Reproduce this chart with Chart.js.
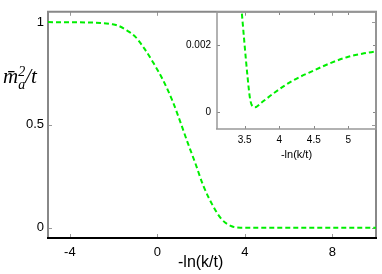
<!DOCTYPE html>
<html>
<head>
<meta charset="utf-8">
<script src="https://cdn.jsdelivr.net/npm/chart.js@4.4.1/dist/chart.umd.min.js"></script>
<style>
  html, body { margin: 0; padding: 0; background: #fff; }
  #wrap { position: relative; width: 382px; height: 274px; }
  #wrap canvas { position: absolute; left: 0; top: 0; }
  .lbl { position: absolute; color: #000; white-space: nowrap; }
  #ylab { left: 3px; top: 64px; font: italic 21px "Liberation Serif", "DejaVu Serif", serif; }
  #ylab .ss { display: inline-block; vertical-align: -6px; font-size: 14px; line-height: 13px; text-align: left; }
  #ylab .ss span { display: block; }
  #xlab { left: 178px; top: 253px; font: 16px "Liberation Sans", Arial, sans-serif; }
</style>
</head>
<body>
<div id="wrap">
  <canvas id="main" width="382" height="274"></canvas>
  <canvas id="inset" width="382" height="274"></canvas>
  <div class="lbl" id="ylab">m&#772;<span class="ss"><span>2</span><span>a</span></span>/t</div>
  <div class="lbl" id="xlab">-ln(k/t)</div>
</div>
<script>
// main curve
const mainX = [-5, -2.6, -2.1, -1.8, -1.4, -1.0, -0.6, -0.2, 0.25, 0.7, 1.05, 1.4, 1.75, 2.1, 2.55, 2.95, 3.4, 3.8, 10];
const mainY = [1, 0.996, 0.99, 0.983, 0.96, 0.928, 0.872, 0.805, 0.72, 0.615, 0.515, 0.41, 0.31, 0.205, 0.105, 0.04, 0.007, 0, 0];
const mainXTicks = [-4, 0, 4, 8];
const mainXLabels = ['-4', '0', '4', '8'];
const mainYTicks = [0, 0.5, 1];
const mainYLabels = ['0', '0.5', '1'];

// inset (zoom near the minimum)
const insetX = [3.46, 3.50, 3.54, 3.58, 3.62, 3.65, 3.75, 3.94, 4.19, 4.5, 4.75, 5.0, 5.2, 5.4];
const insetY = [0.00295, 0.0020, 0.0011, 0.00038, 0.00017, 0.00015, 0.0003, 0.0006, 0.00094, 0.00125, 0.00148, 0.00166, 0.00175, 0.00182];
const insetXTicks = [3.5, 4, 4.5, 5];
const insetXLabels = ['3.5', '4', '4.5', '5'];
const insetYTicks = [0, 0.002];
const insetYLabels = ['0', '0.002'];

const GREEN = '#00ee00';
const FONT = '"Liberation Sans", Arial, sans-serif';

function pts(xs, ys) { return xs.map((x, i) => ({ x: x, y: ys[i] })); }

// box + inward ticks on all four sides
const framePlugin = {
  id: 'frame',
  beforeDatasetsDraw(chart, args, o) {
    const { ctx, chartArea: a, scales } = chart;
    ctx.save();
    ctx.lineWidth = 1;
    ctx.strokeStyle = o.tickColor;
    scales.x.ticks.forEach(t => {
      const px = Math.round(scales.x.getPixelForValue(t.value)) + 0.5;
      ctx.beginPath();
      ctx.moveTo(px, a.bottom); ctx.lineTo(px, a.bottom - o.len);
      ctx.moveTo(px, a.top); ctx.lineTo(px, a.top + o.len);
      ctx.stroke();
    });
    scales.y.ticks.forEach(t => {
      const py = Math.round(scales.y.getPixelForValue(t.value)) + 0.5;
      ctx.beginPath();
      ctx.moveTo(a.left, py); ctx.lineTo(a.left + o.len, py);
      ctx.moveTo(a.right, py); ctx.lineTo(a.right - o.len, py);
      ctx.stroke();
    });
    ctx.lineWidth = o.width;
    ctx.strokeStyle = o.boxColor;
    ctx.beginPath();
    ctx.moveTo(a.left, a.bottom); ctx.lineTo(a.left, a.top);
    ctx.lineTo(a.right, a.top); ctx.lineTo(a.right, a.bottom);
    ctx.stroke();
    ctx.strokeStyle = o.bottomColor;
    ctx.beginPath();
    ctx.moveTo(a.left - 1, a.bottom); ctx.lineTo(a.right + 1, a.bottom);
    ctx.stroke();
    ctx.restore();
  }
};

function setTicks(list) {
  return scale => { scale.ticks = list.map(v => ({ value: v })); };
}
function labelsFrom(list) {
  return (value, i) => list[i];
}

// main plot
new Chart(document.getElementById('main'), {
  type: 'line',
  data: {
    datasets: [{
      data: pts(mainX, mainY),
      borderColor: GREEN,
      borderWidth: 2,
      borderDash: [5, 3],
      pointRadius: 0,
      cubicInterpolationMode: 'monotone'
    }]
  },
  options: {
    responsive: false,
    animation: false,
    layout: { padding: { left: 0, right: 6, top: 10, bottom: 0 } },
    plugins: {
      legend: { display: false },
      tooltip: { enabled: false },
      frame: { len: 4, width: 2, tickColor: '#999', boxColor: '#888', bottomColor: '#000' }
    },
    scales: {
      x: {
        type: 'linear', min: -5, max: 10,
        afterBuildTicks: setTicks(mainXTicks),
        afterFit: s => { s.height = 36; },
        grid: { display: false, drawTicks: false },
        border: { display: false },
        ticks: { padding: 7, color: '#000', font: { family: FONT, size: 13 }, callback: labelsFrom(mainXLabels) }
      },
      y: {
        type: 'linear', min: -0.05, max: 1.05,
        afterBuildTicks: setTicks(mainYTicks),
        afterFit: s => { s.width = 48; },
        grid: { display: false, drawTicks: false },
        border: { display: false },
        ticks: { padding: 4, color: '#000', font: { family: FONT, size: 13 }, callback: labelsFrom(mainYLabels) }
      }
    }
  },
  plugins: [framePlugin]
});

// inset plot
new Chart(document.getElementById('inset'), {
  type: 'line',
  data: {
    datasets: [{
      data: pts(insetX, insetY),
      borderColor: GREEN,
      borderWidth: 2,
      borderDash: [5, 3],
      pointRadius: 0,
      cubicInterpolationMode: 'monotone'
    }]
  },
  options: {
    responsive: false,
    animation: false,
    layout: { padding: { left: 180, right: 6, top: 10, bottom: 109 } },
    plugins: {
      legend: { display: false },
      tooltip: { enabled: false },
      frame: { len: 3, width: 1.5, tickColor: '#888', boxColor: '#999', bottomColor: '#999' }
    },
    scales: {
      x: {
        type: 'linear', min: 3.1, max: 5.4,
        afterBuildTicks: setTicks(insetXTicks),
        afterFit: s => { s.height = 36; },
        grid: { display: false, drawTicks: false },
        border: { display: false },
        ticks: { padding: 5, color: '#000', font: { family: FONT, size: 10 }, callback: labelsFrom(insetXLabels) },
        title: { display: true, text: '-ln(k/t)', color: '#000', padding: { top: 0, bottom: 3 }, font: { family: FONT, size: 11 } }
      },
      y: {
        type: 'linear', min: -0.0005, max: 0.003,
        afterBuildTicks: setTicks(insetYTicks),
        afterFit: s => { s.width = 37; },
        grid: { display: false, drawTicks: false },
        border: { display: false },
        ticks: { padding: 6, color: '#000', font: { family: FONT, size: 10 }, callback: labelsFrom(insetYLabels) }
      }
    }
  },
  plugins: [framePlugin]
});
</script>
</body>
</html>
